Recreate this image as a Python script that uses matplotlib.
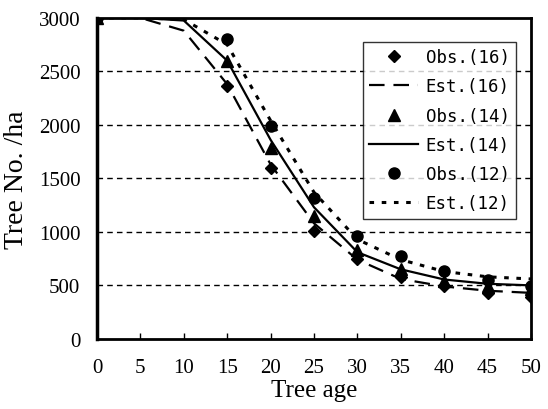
import matplotlib
matplotlib.use("Agg")
import matplotlib.pyplot as plt

ages = [0, 5, 10, 15, 20, 25, 30, 35, 40, 45, 50]
obs_ages = [0, 15, 20, 25, 30, 35, 40, 45, 50]

obs16 = [3000, 2360, 1600, 1010, 750, 580, 490, 430, 390]
obs14 = [3000, 2600, 1780, 1150, 830, 650, 540, 490, 470]
obs12 = [3000, 2800, 1990, 1315, 965, 775, 630, 550, 490]

est16 = [3000, 3000, 2880, 2380, 1630, 1080, 740, 560, 490, 450, 430]
est14 = [3000, 3000, 2975, 2600, 1860, 1230, 810, 650, 555, 515, 500]
est12 = [3000, 3000, 2985, 2750, 2040, 1370, 930, 740, 630, 580, 560]

serif = "Liberation Serif"
mono = "DejaVu Sans Mono"

fig = plt.figure(figsize=(5.48, 4.10), dpi=100)
ax = fig.add_axes([0.177, 0.171, 0.792, 0.783])

for y in [500, 1000, 1500, 2000, 2500]:
    ax.axhline(y, color="black", lw=1.0, ls=(0, (4, 3)), zorder=1)

ax.plot(obs_ages, obs16, ls="none", marker="D", ms=6.5, color="black", label="Obs.(16)", zorder=3)
ax.plot(ages, est16, ls=(0, (7, 4)), lw=1.6, color="black", label="Est.(16)", zorder=2)
ax.plot(obs_ages, obs14, ls="none", marker="^", ms=8, color="black", label="Obs.(14)", zorder=3)
ax.plot(ages, est14, ls="-", lw=1.6, color="black", label="Est.(14)", zorder=2)
ax.plot(obs_ages, obs12, ls="none", marker="o", ms=8, color="black", label="Obs.(12)", zorder=3)
ax.plot(ages, est12, ls=(0, (1.5, 2.5)), lw=2.2, color="black", label="Est.(12)", zorder=2)

ax.set_xlim(0, 50)
ax.set_ylim(0, 3000)
ax.set_xticks(range(0, 51, 5))
ax.set_yticks(range(0, 3001, 500))
ax.tick_params(axis="x", direction="in", length=4, width=1, pad=14, labelsize=15)
ax.tick_params(axis="y", length=0, pad=12, labelsize=15)
for lab in ax.get_xticklabels() + ax.get_yticklabels():
    lab.set_fontfamily(serif)

for s in ax.spines.values():
    s.set_linewidth(2)
    s.set_zorder(4)
ax.spines["left"].set_linewidth(2.5)

ax.set_xlabel("Tree age", fontfamily=serif, fontsize=18, labelpad=1)
ax.set_ylabel("Tree No. /ha", fontfamily=serif, fontsize=20, labelpad=7)

leg = ax.legend(loc="upper right", bbox_to_anchor=(0.965, 0.925), prop={"family": mono, "size": 12.5},
                frameon=True, fancybox=False, edgecolor="black", handlelength=2.8,
                handletextpad=0.45, borderpad=0.35, labelspacing=0.65, borderaxespad=0)
leg.get_frame().set_linewidth(1.0)

fig.savefig("out.png", dpi=100, facecolor="white")
